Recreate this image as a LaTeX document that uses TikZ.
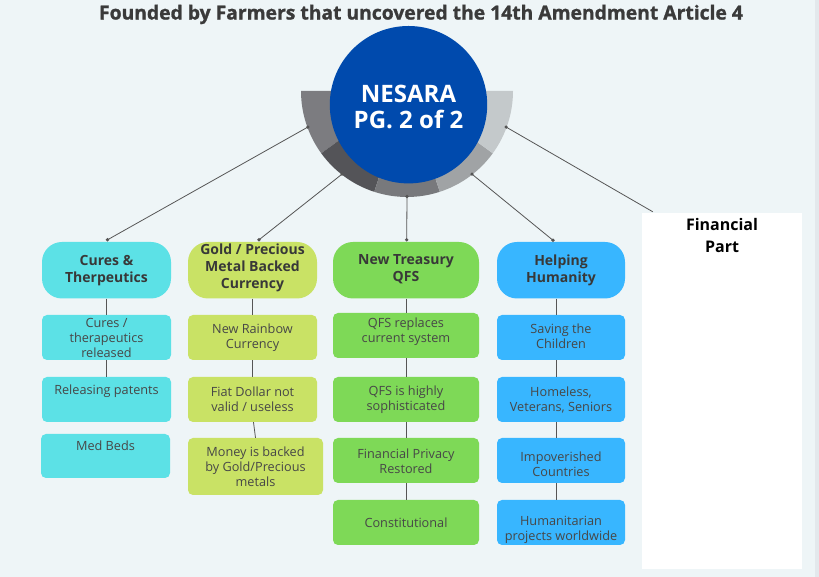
\documentclass[tikz,border=0pt]{standalone}
\usepackage{fontspec}
\setmainfont{Open Sans}
\newfontfamily\titlefont[FakeBold=1.2]{Open Sans}
\usetikzlibrary{calc}
\definecolor{bg}{HTML}{EEF5F7}
\definecolor{strip}{HTML}{E3E8EC}
\definecolor{nblue}{HTML}{004AAD}
\definecolor{sa}{HTML}{7C7C80}
\definecolor{sb}{HTML}{545458}
\definecolor{sc}{HTML}{78797C}
\definecolor{sd}{HTML}{A0A3A5}
\definecolor{se}{HTML}{C4C9CB}
\definecolor{ccyan}{HTML}{5CE1E6}
\definecolor{clime}{HTML}{C9E265}
\definecolor{cgreen}{HTML}{7ED957}
\definecolor{cblue}{HTML}{38B6FF}
\definecolor{headtext}{HTML}{383838}
\definecolor{subtext}{HTML}{474747}
\definecolor{titlec}{HTML}{3A3A3A}
\definecolor{linec}{HTML}{555555}
\begin{document}
\begin{tikzpicture}[x=1pt,y=1pt,
  conn/.style={draw=linec, line width=0.8pt},
  dotc/.style={fill=linec},
  head/.style={rounded corners=20pt, minimum height=56.5pt, inner sep=0pt},
  sub/.style={rounded corners=5pt, minimum height=45pt, inner sep=0pt},
  headtxt/.style={text=headtext, font=\bfseries\fontsize{14}{16.7}\selectfont, align=center, inner sep=0pt},
  subtxt/.style={text=subtext, font=\fontsize{12.7}{15}\selectfont, align=center, inner sep=0pt},
]
% background
\fill[bg] (0,0) rectangle (819,577);
\fill[strip] (815,0) rectangle (819,577);
\useasboundingbox (0,0) rectangle (819,577);

% title
\node[text=titlec, font=\titlefont\bfseries\fontsize{19.3}{22}\selectfont, inner sep=0pt] (title) at (421,562.5) {Founded by Farmers that uncovered the 14th Amendment Article 4};

% ring
\coordinate (R) at (407,486);
\foreach \a/\b/\c in {180/216/sa,216/252/sb,252/288/sc,288/324/sd,324/360/se}{
  \fill[\c] ($(R)+(\a:106pt)$) arc[start angle=\a, end angle=\b, radius=106pt]
    -- ($(R)+(\b:70pt)$) arc[start angle=\b, end angle=\a, radius=70pt] -- cycle;
}
% hub
\node[circle, fill=nblue, minimum size=157.4pt, inner sep=0pt] (hub) at (408.5,472.3) {};
\node[text=white, font=\bfseries\fontsize{24}{26}\selectfont, align=center, inner sep=0pt] (hubt) at (408.5,470) {NESARA\\PG. 2 of 2};

% ring connector points
\coordinate (r1) at ($(R)+(200:105.5pt)$);
\coordinate (r2) at ($(R)+(232:105.5pt)$);
\coordinate (r3) at ($(R)+(270:105.5pt)$);
\coordinate (r4) at ($(R)+(308:105.5pt)$);
\coordinate (r5) at ($(R)+(340:105.5pt)$);

% financial box
\node[fill=white, minimum width=160pt, minimum height=356pt, inner sep=0pt] (fin) at (722,186) {};
\node[text=black, font=\bfseries\fontsize{16}{21.7}\selectfont, align=center, inner sep=0pt] (fint) at (722,341.2) {Financial\\Part};

% head boxes
\node[head, fill=ccyan, minimum width=129pt] (t1) at (106.5,306.75) {};
\node[head, fill=clime, minimum width=129pt] (t2) at (252.5,306.75) {};
\node[head, fill=cgreen, minimum width=146pt] (t3) at (406,306.75) {};
\node[head, fill=cblue, minimum width=128pt] (t4) at (561,306.75) {};
\node[headtxt] (t1t) at (106.5,306.3) {Cures \&\\Therpeutics};
\node[headtxt] (t2t) at (252.5,309) {Gold / Precious\\Metal Backed\\Currency};
\node[headtxt] (t3t) at (406,308) {New Treasury\\QFS};
\node[headtxt] (t4t) at (561,306.3) {Helping\\Humanity};

% column 1
\node[sub, fill=ccyan, minimum width=129pt] (a1) at (106.5,239.5) {};
\node[sub, fill=ccyan, minimum width=129pt] (a2) at (106.5,177.5) {};
\node[sub, fill=ccyan, minimum width=129pt, minimum height=44pt] (a3) at (105.5,121) {};
\node[subtxt] (a1t) at (106.5,239) {Cures /\\therapeutics\\released};
\node[subtxt] (a2t) at (106.5,185.3) {Releasing patents};
\node[subtxt] (a3t) at (105.5,131.3) {Med Beds};

% column 2
\node[sub, fill=clime, minimum width=129pt] (b1) at (252.5,239.5) {};
\node[sub, fill=clime, minimum width=129pt] (b2) at (252.5,177.5) {};
\node[sub, fill=clime, minimum width=135pt, minimum height=57pt] (b3) at (255.5,110.5) {};
\node[subtxt] (b1t) at (252.5,239.7) {New Rainbow\\Currency};
\node[subtxt] (b2t) at (252.5,178) {Fiat Dollar not\\valid / useless};
\node[subtxt] (b3t) at (255.5,110.5) {Money is backed\\by Gold/Precious\\metals};

% column 3
\node[sub, fill=cgreen, minimum width=146pt] (c1) at (406,241.5) {};
\node[sub, fill=cgreen, minimum width=146pt] (c2) at (406,177.5) {};
\node[sub, fill=cgreen, minimum width=146pt] (c3) at (406,116.5) {};
\node[sub, fill=cgreen, minimum width=146pt] (c4) at (406,54.5) {};
\node[subtxt] (c1t) at (406,245.7) {QFS replaces\\current system};
\node[subtxt] (c2t) at (406,177) {QFS is highly\\sophisticated};
\node[subtxt] (c3t) at (406,116) {Financial Privacy\\Restored};
\node[subtxt] (c4t) at (406,54.5) {Constitutional};

% column 4
\node[sub, fill=cblue, minimum width=128pt] (d1) at (561,239.5) {};
\node[sub, fill=cblue, minimum width=128pt] (d2) at (561,177.5) {};
\node[sub, fill=cblue, minimum width=128pt] (d3) at (561,116.5) {};
\node[sub, fill=cblue, minimum width=128pt] (d4) at (561,54.5) {};
\node[subtxt] (d1t) at (561,240.7) {Saving the\\Children};
\node[subtxt] (d2t) at (561,177) {Homeless,\\Veterans, Seniors};
\node[subtxt] (d3t) at (561,112.5) {Impoverished\\Countries};
\node[subtxt] (d4t) at (561,47) {Humanitarian\\projects worldwide};

% vertical connectors
\draw[conn] (t1.south) -- (a1.north);
\draw[conn] (a1.south) -- (a2.north);
\draw[conn] (t2.south) -- (b1.north);
\draw[conn] (b1.south) -- (b2.north);
\draw[conn] ([xshift=1pt]b2.south) -- ([xshift=0pt]b3.north);
\draw[conn] (t3.south) -- (c1.north);
\draw[conn] (c1.south) -- (c2.north);
\draw[conn] (c2.south) -- (c3.north);
\draw[conn] (c3.south) -- (c4.north);
\draw[conn] ([xshift=-5pt]t4.south) -- ([xshift=-5pt]d1.north);
\draw[conn] ([xshift=-5pt]d1.south) -- ([xshift=-5pt]d2.north);
\draw[conn] ([xshift=-5pt]d2.south) -- ([xshift=-5pt]d3.north);
\draw[conn] ([xshift=-5pt]d3.south) -- ([xshift=-5pt]d4.north);

% diagonal connectors
\coordinate (e1) at ([xshift=1pt,yshift=2pt]t1.north);
\coordinate (e2) at ([xshift=6.5pt,yshift=2pt]t2.north);
\coordinate (e3) at ([xshift=0.7pt,yshift=2pt]t3.north);
\coordinate (e4) at ([xshift=-8pt,yshift=1.5pt]t4.north);
\coordinate (e5) at ([xshift=11pt,yshift=1pt]fin.north west);
\draw[conn] (r1) -- (e1);
\draw[conn] (r2) -- (e2);
\draw[conn] (r3) -- (e3);
\draw[conn] (r4) -- (e4);
\draw[conn] (r5) -- (e5);
\foreach \p in {r1,r2,r3,r4,r5,e1,e2,e3,e4}{
  \fill[dotc] (\p) circle (1.8pt);
}
\end{tikzpicture}
\end{document}
